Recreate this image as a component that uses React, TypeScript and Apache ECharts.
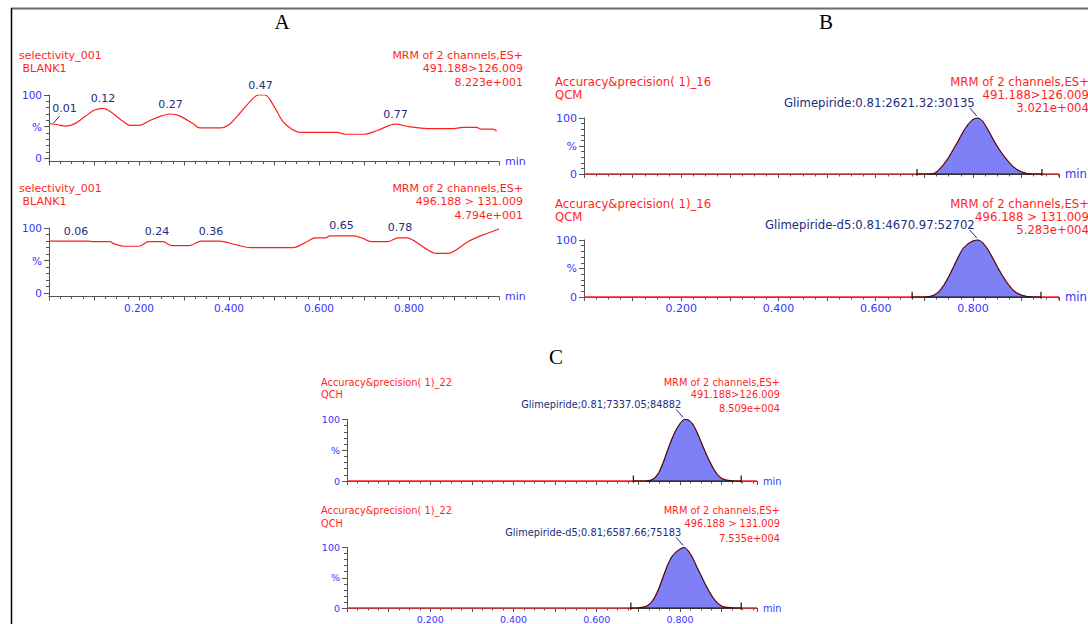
import React, { useEffect, useRef } from 'react';
import * as echarts from 'echarts';

const FONT = 'DejaVu Sans';
const RED = '#ff1f1f';
const BLUE = '#3535ff';
const NAVY = '#222c7c';
const AXIS = '#555555';
const FILL = '#8080f6';

// ---------- DATA ----------
// Panel A, channel 491.188>126.009 (BLANK1): time (min) / intensity (%)
const a1Time = [0, 0.02, 0.035, 0.055, 0.08, 0.1, 0.12, 0.14, 0.165, 0.18, 0.2, 0.225, 0.25, 0.27, 0.29, 0.32, 0.335, 0.38, 0.4, 0.425, 0.45, 0.465, 0.48, 0.5, 0.52, 0.54, 0.56, 0.64, 0.66, 0.7, 0.73, 0.77, 0.8, 0.84, 0.9, 0.92, 0.95, 0.96, 0.985, 0.995];
const a1Int = [55, 53, 51, 54, 66, 76, 79, 72, 58, 52, 52, 60, 67, 70, 67, 55, 48, 48, 53, 72, 92, 100, 100, 82, 58, 46, 41, 41, 38, 38, 44, 54, 50, 47, 47, 49, 49, 46, 46, 43];
const a1PeakTime = [0.01, 0.12, 0.27, 0.47, 0.77];
const a1PeakInt = [54, 79, 70, 100, 54];

// Panel A, channel 496.188 > 131.009 (BLANK1)
const a2Time = [0, 0.086, 0.1, 0.136, 0.144, 0.168, 0.199, 0.222, 0.253, 0.273, 0.312, 0.339, 0.378, 0.417, 0.448, 0.542, 0.573, 0.592, 0.616, 0.624, 0.678, 0.698, 0.717, 0.752, 0.776, 0.795, 0.815, 0.838, 0.861, 0.885, 0.931, 0.963, 0.994, 1.0];
const a2Int = [80, 80, 79, 79, 76, 72, 72, 79, 79, 73, 73, 80, 80, 74, 70, 70, 79, 85, 85, 88, 88, 84, 79, 79, 85, 85, 79, 68, 61, 61, 79, 89, 97, 99];
const a2PeakTime = [0.06, 0.24, 0.36, 0.65, 0.78];
const a2PeakInt = [80, 79, 80, 88, 85];

// Panel B (QCM) Glimepiride peak
const b1Time = [0.71, 0.72, 0.73, 0.74, 0.75, 0.76, 0.77, 0.78, 0.79, 0.8, 0.81, 0.82, 0.83, 0.84, 0.85, 0.86, 0.87, 0.88, 0.89, 0.9, 0.91, 0.92];
const b1Int = [0, 0.5, 7, 17, 29, 44, 59, 75, 88, 97, 100, 94, 80, 64, 49, 36, 25, 15, 8, 3.5, 1, 0];
// Panel B (QCM) Glimepiride-d5 peak
const b2Time = [0.7, 0.71, 0.72, 0.73, 0.74, 0.75, 0.76, 0.77, 0.78, 0.79, 0.8, 0.81, 0.82, 0.83, 0.84, 0.85, 0.86, 0.87, 0.88, 0.89, 0.9, 0.91, 0.92];
const b2Int = [0, 0.5, 3, 9, 20, 35, 52, 70, 85, 93, 98, 100, 95, 84, 69, 53, 38, 25, 14, 7, 3, 1, 0];
// Panel C (QCH) Glimepiride peak
const c1Time = [0.72, 0.73, 0.74, 0.75, 0.76, 0.77, 0.78, 0.79, 0.8, 0.81, 0.82, 0.83, 0.84, 0.85, 0.86, 0.87, 0.88, 0.89, 0.9, 0.91, 0.92, 0.93];
const c1Int = [0, 1, 5, 14, 30, 49, 67, 82, 93, 100, 99, 93, 80, 64, 48, 33, 20, 10, 4, 1.5, 0.5, 0];
// Panel C (QCH) Glimepiride-d5 peak
const c2Time = [0.7, 0.71, 0.72, 0.73, 0.74, 0.75, 0.76, 0.77, 0.78, 0.79, 0.8, 0.81, 0.82, 0.83, 0.84, 0.85, 0.86, 0.87, 0.88, 0.89, 0.9, 0.91, 0.92, 0.93];
const c2Int = [0, 1, 3, 8, 18, 33, 52, 70, 84, 92, 97, 100, 94, 83, 68, 54, 40, 27, 16, 8, 3, 1, 0.3, 0];

// integration start / end markers (min)
const b1Marks = [0.685, 0.942];
const b2Marks = [0.675, 0.94];
const c1Marks = [0.688, 0.947];
const c2Marks = [0.682, 0.947];

const peakApexTime = [0.81, 0.81, 0.81, 0.81];
const peakLabels = [
  'Glimepiride:0.81:2621.32:30135',
  'Glimepiride-d5:0.81:4670.97:52702',
  'Glimepiride;0.81;7337.05;84882',
  'Glimepiride-d5;0.81;6587.66;75183',
];

const leftTitles = [
  ['selectivity_001', ' BLANK1'],
  ['selectivity_001', ' BLANK1'],
  ['Accuracy&precision( 1)_16', 'QCM'],
  ['Accuracy&precision( 1)_16', 'QCM'],
  ['Accuracy&precision( 1)_22', 'QCH'],
  ['Accuracy&precision( 1)_22', 'QCH'],
];
const rightTitles = [
  ['MRM of 2 channels,ES+', '491.188>126.009', '8.223e+001'],
  ['MRM of 2 channels,ES+', '496.188 > 131.009', '4.794e+001'],
  ['MRM of 2 channels,ES+', '491.188>126.009', '3.021e+004'],
  ['MRM of 2 channels,ES+', '496.188 > 131.009', '5.283e+004'],
  ['MRM of 2 channels,ES+', '491.188>126.009', '8.509e+004'],
  ['MRM of 2 channels,ES+', '496.188 > 131.009', '7.535e+004'],
];
const panelLetters = ['A', 'B', 'C'];
const yTickLabels = [0, 50, 100];
const yMinorTicks = [10, 20, 30, 40, 60, 70, 80, 90];

// ---------- LAYOUT ----------
const PANELS = [
  { left: 49, top: 95, width: 450, height: 66.5, xmax: 1.0, ymin: -5, showX: false, fs: 11, afs: 10.5, tl: 19, tr: 523, ty: [55, 68, 82] },
  { left: 49, top: 228, width: 450, height: 68.5, xmax: 1.0, ymin: -5, showX: true, fs: 11, afs: 10.5, tl: 19, tr: 523, ty: [188, 201, 215] },
  { left: 584, top: 118, width: 475, height: 56, xmax: 0.977, ymin: 0, showX: false, fs: 11.7, afs: 11, tl: 555, tr: 1089, ty: [82, 95, 108] },
  { left: 584, top: 240, width: 475, height: 57, xmax: 0.977, ymin: 0, showX: true, fs: 11.7, afs: 11, tl: 555, tr: 1089, ty: [204, 217, 230] },
  { left: 347, top: 419.5, width: 410, height: 61.5, xmax: 0.985, ymin: 0, showX: false, fs: 9.8, afs: 9.5, tl: 321, tr: 780, ty: [382, 394, 408] },
  { left: 347, top: 547.5, width: 410, height: 61.5, xmax: 0.985, ymin: 0, showX: true, fs: 9.8, afs: 9.5, tl: 321, tr: 780, ty: [510, 523, 538] },
];
const LETTER_POS = [[282, 22], [826, 22], [556, 357]];

const zip = (t: number[], v: number[]) => t.map((x, i) => [x, v[i]]);
const fmtX = (v: number) => {
  const k = Math.round(v * 10);
  return Math.abs(v - k / 10) < 1e-6 && k > 0 && k < 10 && k % 2 === 0 ? v.toFixed(3) : '';
};

function buildOption() {
  const grid: any[] = [];
  const xAxis: any[] = [];
  const yAxis: any[] = [];
  const series: any[] = [];
  const traceSeries: number[] = [];

  PANELS.forEach((p, i) => {
    grid.push({ left: p.left, top: p.top, width: p.width, height: p.height });
    xAxis.push({
      type: 'value', gridIndex: i, min: 0, max: p.xmax, interval: 0.1,
      axisLine: { show: true, onZero: false, lineStyle: { color: AXIS, width: 1 } },
      axisTick: { show: true, length: 4, lineStyle: { color: AXIS } },
      minorTick: { show: true, splitNumber: 4, length: 2.5, lineStyle: { color: AXIS } },
      splitLine: { show: false }, minorSplitLine: { show: false },
      axisLabel: { show: p.showX, margin: 6, color: BLUE, fontSize: p.afs, fontFamily: FONT, formatter: fmtX, showMinLabel: false, showMaxLabel: false },
      name: 'min', nameLocation: 'end', nameGap: 6,
      nameTextStyle: { color: BLUE, fontSize: p.fs, fontFamily: FONT },
    });
    yAxis.push({
      type: 'value', gridIndex: i, min: p.ymin, max: 100, position: 'left',
      axisLine: { show: true, onZero: false, lineStyle: { color: AXIS, width: 1 } },
      axisTick: { show: true, length: 5, customValues: yTickLabels, lineStyle: { color: AXIS } },
      axisLabel: { show: true, customValues: yTickLabels, margin: 7, color: BLUE, fontSize: p.afs, fontFamily: FONT, formatter: (v: number) => (v === 50 ? '%' : String(v)) },
      splitLine: { show: false },
    });
    yAxis.push({
      type: 'value', gridIndex: i, min: p.ymin, max: 100, position: 'left',
      axisLine: { show: false },
      axisTick: { show: true, length: 3, customValues: yMinorTicks, lineStyle: { color: AXIS } },
      axisLabel: { show: false },
      splitLine: { show: false },
    });
  });

  const aTraces = [zip(a1Time, a1Int), zip(a2Time, a2Int)];
  aTraces.forEach((d, i) => {
    traceSeries[i] = series.length;
    series.push({
      type: 'line', xAxisIndex: i, yAxisIndex: 2 * i, data: d, smooth: 0.35, symbol: 'none',
      lineStyle: { color: RED, width: 1.2 }, z: 2,
    });
  });

  const peaks = [zip(b1Time, b1Int), zip(b2Time, b2Int), zip(c1Time, c1Int), zip(c2Time, c2Int)];
  const marks = [b1Marks, b2Marks, c1Marks, c2Marks];
  peaks.forEach((pk, j) => {
    const i = j + 2;
    const p = PANELS[i];
    traceSeries[i] = series.length;
    series.push({
      type: 'line', xAxisIndex: i, yAxisIndex: 2 * i,
      data: [[0, 0], ...pk, [p.xmax, 0]], symbol: 'none',
      lineStyle: { color: RED, width: 1.6 }, z: 2,
    });
    series.push({
      type: 'line', xAxisIndex: i, yAxisIndex: 2 * i, data: pk, smooth: 0.3, symbol: 'none',
      lineStyle: { color: '#111', width: 1 }, areaStyle: { color: FILL, opacity: 1 }, z: 3,
    });
    const [m1, m2] = marks[j];
    series.push({
      type: 'line', xAxisIndex: i, yAxisIndex: 2 * i, clip: false, symbol: 'none',
      data: [[m1, 9], [m1, -3], [m1, 0], [m2, 0], [m2, -3], [m2, 9]],
      lineStyle: { color: '#111', width: 1.2 }, z: 4,
    });
  });

  return {
    animation: false,
    textStyle: { fontFamily: FONT },
    grid, xAxis, yAxis, series,
    __traceSeries: traceSeries,
  };
}

function txt(x: number, y: number, text: string, fs: number, fill: string, align = 'left', family = FONT) {
  return {
    type: 'text', x, y, silent: true,
    style: {
      text, fill, font: `${fs}px "${family}"`,
      align, textAlign: align, verticalAlign: 'middle', textVerticalAlign: 'middle',
    },
  };
}
function seg(x1: number, y1: number, x2: number, y2: number, stroke: string, lineWidth = 1) {
  return { type: 'line', silent: true, shape: { x1, y1, x2, y2 }, style: { stroke, lineWidth } };
}

export default function App() {
  const ref = useRef<HTMLDivElement>(null);
  useEffect(() => {
    if (!ref.current) return;
    const chart = echarts.init(ref.current, undefined, { renderer: 'svg' });
    const opt: any = buildOption();
    const traceSeries: number[] = opt.__traceSeries;
    delete opt.__traceSeries;
    chart.setOption(opt);

    const els: any[] = [];
    // frame
    els.push(seg(11, 8.5, 1088, 8.5, '#6a6a6a', 2));
    els.push(seg(11.5, 8, 11.5, 624, '#000', 1.5));
    // panel letters
    panelLetters.forEach((L, i) => els.push(txt(LETTER_POS[i][0], LETTER_POS[i][1], L, 21, '#000', 'center', 'Liberation Serif')));
    // titles
    PANELS.forEach((p, i) => {
      leftTitles[i].forEach((t, k) => els.push(txt(p.tl, p.ty[k], t, p.fs, RED, 'left')));
      rightTitles[i].forEach((t, k) => els.push(txt(p.tr, p.ty[k], t, p.fs, RED, 'right')));
    });
    const px = (panel: number, x: number, y: number) =>
      chart.convertToPixel({ seriesIndex: traceSeries[panel] }, [x, y]) as number[];
    // A panel retention-time labels
    const aPeaks = [[a1PeakTime, a1PeakInt], [a2PeakTime, a2PeakInt]];
    aPeaks.forEach(([times, ints], i) => {
      times.forEach((t, k) => {
        const [x, y] = px(i, t, ints[k]);
        if (i === 0 && k === 0) {
          els.push(txt(x + 11, y - 16, t.toFixed(2), PANELS[i].fs, NAVY, 'center'));
          els.push(seg(x, y - 1, x + 6, y - 8, NAVY, 1));
        } else {
          els.push(txt(x, y - 10, t.toFixed(2), PANELS[i].fs, NAVY, 'center'));
        }
      });
    });
    // B / C peak labels
    peakLabels.forEach((label, j) => {
      const i = j + 2;
      const [x, y] = px(i, peakApexTime[j], 100);
      els.push(txt(x - 3, y - 15, label, PANELS[i].fs, NAVY, 'right'));
      els.push(seg(x - 8, y - 10, x - 1, y - 2, NAVY, 1));
    });
    chart.setOption({ graphic: { elements: els } });
    return () => chart.dispose();
  }, []);
  return (
    <div
      ref={ref}
      style={{ position: 'absolute', left: 0, top: 0, width: 1088, height: 624, background: '#fff' }}
    />
  );
}
